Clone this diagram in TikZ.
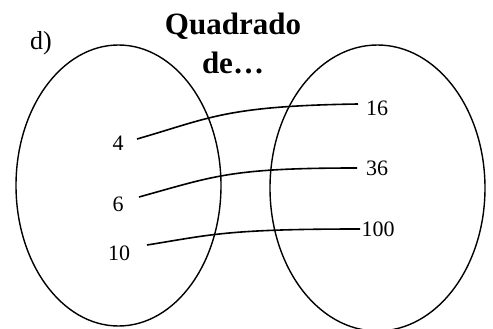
\documentclass[tikz,border=0pt]{standalone}
\usepackage{fontspec}
\setmainfont{Liberation Serif}
\begin{document}
\begin{tikzpicture}[x=1pt,y=-1pt,
  num/.style={font=\fontsize{22}{26}\selectfont, inner sep=0pt},
  conn/.style={line width=1.6pt},
  setline/.style={line width=1.4pt}]
\useasboundingbox (0,0) rectangle (493,329);
\draw[setline] (118.5,185.5) ellipse [x radius=102.5, y radius=140.5];
\draw[setline] (377.5,188) ellipse [x radius=107.5, y radius=143];
\node[font=\fontsize{26}{30}\selectfont] (lbl) at (41,43) {d)};
\node[font=\fontsize{31}{36}\selectfont\bfseries] (t1) at (233,26) {Quadrado};
\node[font=\fontsize{31}{36}\selectfont\bfseries] (t2) at (233,63) {de\ldots};
\node[num] (a4) at (118,143) {4};
\node[num] (a6) at (118,204) {6};
\node[num] (a10) at (119,253) {10};
\node[num] (b16) at (377,108) {16};
\node[num] (b36) at (377,168) {36};
\node[num] (b100) at (378,229) {100};
\coordinate (s1) at (137,139);
\coordinate (e1) at (358,104);
\coordinate (s2) at (139,197);
\coordinate (e2) at (357,168);
\coordinate (s3) at (147,245);
\coordinate (e3) at (360,229);
\draw[conn] (s1) .. controls (210,118) and (225,106) .. (e1);
\draw[conn] (s2) .. controls (215,176) and (230,168) .. (e2);
\draw[conn] (s3) .. controls (210,235) and (225,229) .. (e3);
\end{tikzpicture}
\end{document}
